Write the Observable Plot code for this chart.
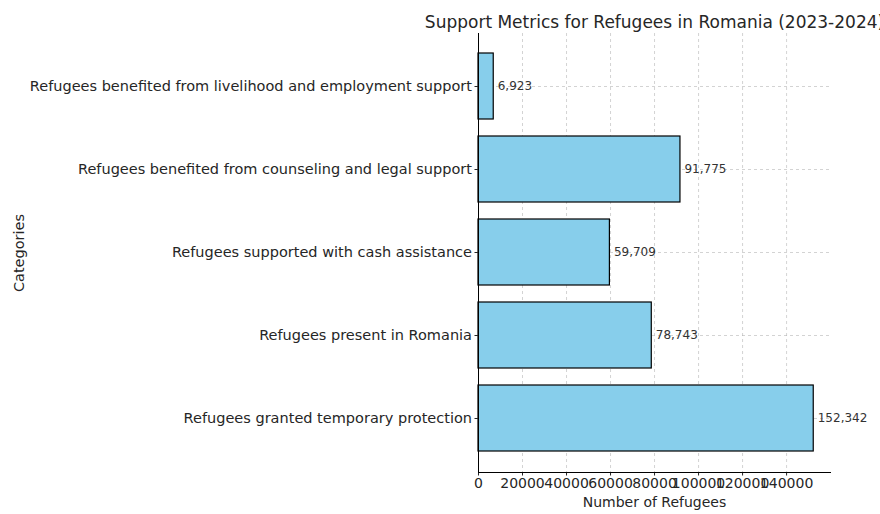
<!DOCTYPE html>
<html>
<head>
<meta charset="utf-8">
<script src="https://cdn.jsdelivr.net/npm/d3@7"></script>
<script src="https://cdn.jsdelivr.net/npm/@observablehq/plot@0.6"></script>
<style>
  html, body { margin: 0; padding: 0; background: #fff; }
  svg { font-family: "DejaVu Sans", sans-serif; }
</style>
</head>
<body>
<div id="chart"></div>
<script>
const title = "Support Metrics for Refugees in Romania (2023-2024)";
const xLabel = "Number of Refugees";
const yLabel = "Categories";
const categories = [
  "Refugees benefited from livelihood and employment support",
  "Refugees benefited from counseling and legal support",
  "Refugees supported with cash assistance",
  "Refugees present in Romania",
  "Refugees granted temporary protection"
];
const values = [6923, 91775, 59709, 78743, 152342];
const xTicks = [0, 20000, 40000, 60000, 80000, 100000, 120000, 140000];

const data = categories.map((c, i) => ({category: c, value: values[i]}));
const fmt = d3.format(",");
const textColor = "#262626";

const chart = Plot.plot({
  width: 880,
  height: 514,
  marginLeft: 478,
  marginRight: 50,
  marginTop: 33,
  marginBottom: 42,
  style: {fontFamily: "DejaVu Sans, sans-serif", color: textColor, background: "#fff"},
  x: {domain: [0, 152342 * 1.05]},
  y: {domain: categories, paddingInner: 0.2, paddingOuter: 0.24},
  marks: [
    Plot.gridX(xTicks, {stroke: "#b0b0b0", strokeOpacity: 0.7, strokeDasharray: "3,3", strokeWidth: 0.8}),
    Plot.gridY(categories, {stroke: "#b0b0b0", strokeOpacity: 0.7, strokeDasharray: "3,3", strokeWidth: 0.8}),
    Plot.barX(data, {x: "value", y: "category", fill: "#87CEEB", stroke: "black", strokeWidth: 1.2}),
    Plot.text(data, {x: "value", y: "category", text: d => fmt(d.value), textAnchor: "start", dx: 4, fontSize: 12, fill: "#333"}),
    Plot.axisX({ticks: xTicks, tickFormat: d => String(d), tickSize: 3.5, tickPadding: 2, fontSize: 14,
      label: xLabel, labelAnchor: "center", labelArrow: "none", labelOffset: 34}),
    Plot.axisY({tickSize: 3.5, tickPadding: 3, fontSize: 14.5,
      label: yLabel, labelAnchor: "center", labelArrow: "none", labelOffset: 465}),
    Plot.ruleX([0], {stroke: "black", strokeWidth: 1}),
    Plot.frame({anchor: "bottom", stroke: "black", strokeWidth: 1}),
    Plot.text([title], {frameAnchor: "top", dy: -18, fontSize: 17, fill: textColor})
  ]
});
document.getElementById("chart").appendChild(chart);
</script>
</body>
</html>
